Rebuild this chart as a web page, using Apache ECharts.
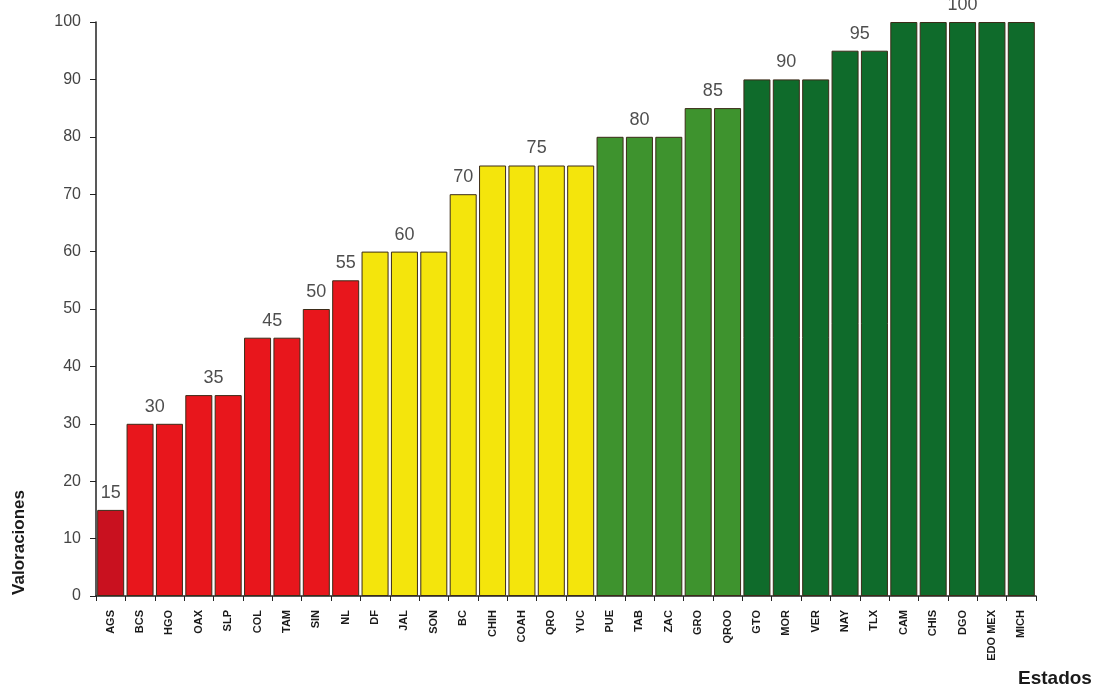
<!DOCTYPE html>
<html>
<head>
<meta charset="utf-8">
<title>Valoraciones por estado</title>
<script src="https://cdn.jsdelivr.net/npm/echarts@6/dist/echarts.min.js"></script>
<style>
  html, body { margin: 0; padding: 0; background: #ffffff; }
  #chart { width: 1105px; height: 694px; }
</style>
</head>
<body>
<div id="chart"></div>
<script>
// States and their scores
const estados = ['AGS', 'BCS', 'HGO', 'OAX', 'SLP', 'COL', 'TAM', 'SIN', 'NL', 'DF', 'JAL', 'SON', 'BC',
  'CHIH', 'COAH', 'QRO', 'YUC', 'PUE', 'TAB', 'ZAC', 'GRO', 'QROO', 'GTO', 'MOR', 'VER', 'NAY', 'TLX',
  'CAM', 'CHIS', 'DGO', 'EDO MEX', 'MICH'];
const valoraciones = [15, 30, 30, 35, 35, 45, 45, 50, 55, 60, 60, 60, 70,
  75, 75, 75, 75, 80, 80, 80, 85, 85, 90, 90, 90, 95, 95,
  100, 100, 100, 100, 100];
const yTicks = [0, 10, 20, 30, 40, 50, 60, 70, 80, 90, 100];

// Fill colour by score band
function colorFor(v) {
  if (v < 30) return '#c9111f';
  if (v < 60) return '#e8161c';
  if (v < 80) return '#f4e50c';
  if (v < 90) return '#3e932e';
  return '#0f6b2b';
}

// One label per run of equal scores, centred over the run
const groupLabels = [];
let start = 0;
for (let i = 1; i <= valoraciones.length; i++) {
  if (i === valoraciones.length || valoraciones[i] !== valoraciones[start]) {
    groupLabels.push([(start + i) / 2, valoraciones[start]]);
    start = i;
  }
}

const FONT = 'Liberation Sans, Arial, sans-serif';

const chart = echarts.init(document.getElementById('chart'));
chart.setOption({
  backgroundColor: '#ffffff',
  animation: false,
  grid: { left: 96, right: 69, top: 22, bottom: 98, containLabel: false },
  xAxis: [
    {
      type: 'category',
      data: estados,
      axisLine: { lineStyle: { color: '#222', width: 1.5 } },
      axisTick: { show: true, alignWithLabel: false, length: 5, lineStyle: { color: '#222' } },
      axisLabel: {
        rotate: 90, interval: 0, margin: 14,
        fontFamily: FONT, fontSize: 11, fontWeight: 'bold', color: '#1a1a1a'
      }
    },
    { type: 'value', min: 0, max: estados.length, show: false }
  ],
  yAxis: {
    type: 'value', min: 0, max: 100, interval: 10,
    axisLine: { show: true, lineStyle: { color: '#222', width: 1.5 } },
    axisTick: { show: true, length: 6, lineStyle: { color: '#222' } },
    splitLine: { show: false },
    axisLabel: {
      margin: 15, color: '#444', fontSize: 16, fontFamily: FONT,
      formatter: v => (yTicks.includes(v) ? String(v) : '')
    }
  },
  series: [
    {
      type: 'bar',
      xAxisIndex: 0,
      barCategoryGap: '8%',
      data: valoraciones.map(v => ({
        value: v,
        itemStyle: { color: colorFor(v), borderColor: '#3b2b18', borderWidth: 1 }
      }))
    },
    {
      type: 'scatter',
      xAxisIndex: 1,
      symbolSize: 0,
      silent: true,
      data: groupLabels,
      label: {
        show: true, position: 'top', distance: 8,
        fontFamily: FONT, fontSize: 18, color: '#222',
        formatter: p => String(p.value[1])
      }
    }
  ],
  graphic: [
    {
      type: 'text', left: 11, top: 490, rotation: Math.PI / 2,
      style: {
        text: 'Valoraciones', fill: '#1a1a1a', fontSize: 17, fontWeight: 'bold', fontFamily: FONT
      }
    },
    {
      type: 'text', left: 1018, top: 669,
      style: {
        text: 'Estados', fill: '#1a1a1a', fontSize: 19, fontWeight: 'bold', fontFamily: FONT
      }
    }
  ]
});
</script>
</body>
</html>
